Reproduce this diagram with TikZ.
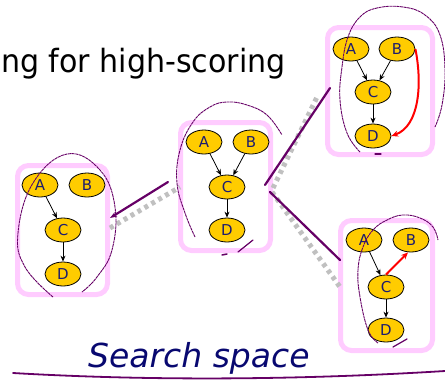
\documentclass[tikz,border=0pt]{standalone}
\usepackage{fontspec}
\setmainfont{DejaVu Sans}
\usetikzlibrary{arrows.meta,shapes.geometric}

\definecolor{panelpink}{RGB}{255,204,255}
\definecolor{varfill}{RGB}{255,204,0}
\definecolor{labelnavy}{RGB}{28,28,110}
\definecolor{captionnavy}{RGB}{8,8,112}
\definecolor{inkpurple}{RGB}{102,0,102}
\definecolor{pathgray}{RGB}{192,192,192}

\tikzset{
  panel/.style={draw=panelpink, line width=5pt, rounded corners=11pt, fill=white, inner sep=0pt},
  var/.style={ellipse, draw=black, fill=varfill, line width=0.8pt, minimum width=36pt,
    minimum height=24pt, inner sep=0pt, text=labelnavy, font=\fontsize{15}{15}\selectfont},
  arc/.style={-{Stealth[length=6pt,width=5pt]}, line width=0.8pt},
  newarc/.style={-{Stealth[length=7pt,width=6pt]}, red, line width=2pt},
  ink/.style={inkpurple, line width=0.9pt, dash pattern=on 3pt off 0.6pt},
  stroke/.style={inkpurple, line width=2.2pt, line cap=round},
  move/.style={pathgray, line width=5pt, dash pattern=on 4pt off 4pt},
}

\begin{document}
\begin{tikzpicture}[x=1pt, y=-1pt]
\useasboundingbox (0,0) rectangle (445,381);

% heading, cut off at the left edge
\node[anchor=base west, inner sep=0pt] (title) at (1,72)
  {\scalebox{0.94}[1]{\fontsize{32}{32}\selectfont ng for high-scoring}};

% the four candidate networks
\node[panel, minimum width=90pt, minimum height=129pt] (P1) at (62.5,230) {};
\node[panel, minimum width=90pt, minimum height=128pt] (P2) at (225.5,186.5) {};
\node[panel, minimum width=105pt, minimum height=127pt] (P3) at (380,91) {};
\node[panel, minimum width=92pt, minimum height=130pt] (P4) at (386.5,285.5) {};

% moves between neighbouring networks
\coordinate (m12a) at (110,228); \coordinate (m12b) at (180,187);
\coordinate (m23a) at (273,188); \coordinate (m23b) at (318,95);
\coordinate (m24a) at (272,192); \coordinate (m24b) at (340,287);
\draw[move] (m12a) -- (m12b);
\draw[move] (m23a) -- (m23b);
\draw[move] (m24a) -- (m24b);

\coordinate (s12a) at (168,182); \coordinate (s12b) at (110,218);
\coordinate (s23a) at (265,185); \coordinate (s23b) at (330,88);
\coordinate (s24a) at (270,192); \coordinate (s24b) at (340,260);
\draw[stroke, -{Stealth[length=7pt,width=5pt]}] (s12a) -- (s12b);
\draw[stroke] (s23a) -- (s23b);
\draw[stroke] (s24a) -- (s24b);

% network 1
\node[var] (A1) at (40,185) {A};
\node[var] (B1) at (87,185) {B};
\node[var] (C1) at (63,230) {C};
\node[var] (D1) at (63,274) {D};
\draw[arc] (A1) -- (C1);
\draw[arc] (C1) -- (D1);

% network 2
\node[var] (A2) at (204,142) {A};
\node[var] (B2) at (251,142) {B};
\node[var] (C2) at (227,187) {C};
\node[var] (D2) at (227,230) {D};
\draw[arc] (A2) -- (C2);
\draw[arc] (B2) -- (C2);
\draw[arc] (C2) -- (D2);

% network 3: added edge B -> D
\node[var] (A3) at (351,49) {A};
\node[var] (B3) at (397,49) {B};
\node[var] (C3) at (373,92) {C};
\node[var] (D3) at (373,136) {D};
\draw[arc] (A3) -- (C3);
\draw[arc] (B3) -- (C3);
\draw[arc] (C3) -- (D3);
\draw[newarc] (B3.east) .. controls +(7,35) and +(28,-10) .. (D3.east);

% network 4: reversed edge C -> B
\node[var] (A4) at (364,240) {A};
\node[var] (B4) at (411,240) {B};
\node[var] (C4) at (386,287) {C};
\node[var] (D4) at (386,330) {D};
\draw[arc] (A4) -- (C4);
\draw[arc] (C4) -- (D4);
\draw[newarc] (C4.north) -- ([xshift=-3pt]B4.south);

% hand-drawn loops round each network
\draw[ink] plot[smooth, tension=0.7] coordinates {(53,297) (25,267) (18,233) (33,183) (67,154) (100,170) (115,207) (112,250) (97,277) (82,292)};
\draw[ink] plot[smooth, tension=0.7] coordinates {(195,237) (185,213) (177,183) (180,150) (193,122) (210,107) (227,102) (247,105) (267,115) (282,135)};
\draw[stroke, line width=1.5pt] (222,255) -- (227,254);
\draw[stroke, line width=1.2pt] (238,252) -- (253,240);
\draw[ink] plot[smooth, tension=0.7] coordinates {(360,152) (347,133) (340,100) (342,67) (348,37) (360,17) (377,8) (403,7) (425,15) (440,35) (445,70) (442,105) (435,127)};
\draw[stroke, line width=1.2pt] (375,154) -- (381,154);
\draw[ink] plot[smooth, tension=0.7] coordinates {(378,343) (368,330) (360,297) (358,270) (363,247) (373,230) (387,220) (403,215) (420,218) (433,227) (438,240)};
\draw[stroke, line width=1.2pt] (393,347) -- (407,339);

% caption
\node[anchor=base west, inner sep=0pt, text=captionnavy] (caption) at (88,367)
  {\fontsize{33}{33}\selectfont\itshape Search space};
\coordinate (ul1) at (13,373); \coordinate (ul2) at (445,371);
\draw[stroke, line width=1.8pt] (ul1) .. controls (150,381) and (300,380) .. (ul2);
\end{tikzpicture}
\end{document}
